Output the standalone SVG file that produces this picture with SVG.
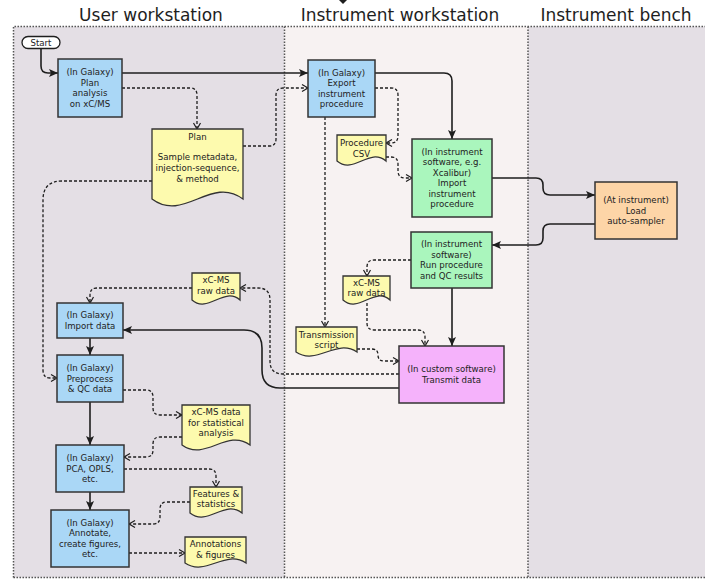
<svg xmlns="http://www.w3.org/2000/svg" width="705" height="579" viewBox="0 0 705 579">
<defs>
<marker id="fa" markerUnits="userSpaceOnUse" markerWidth="10" markerHeight="9" refX="9" refY="4" orient="auto" overflow="visible">
<path d="M0,0 L9,4 L0,8 L2,4 z" fill="#1e1e1e"/>
</marker>
<marker id="oa" markerUnits="userSpaceOnUse" markerWidth="8" markerHeight="8" refX="6" refY="3.5" orient="auto" overflow="visible">
<path d="M0,0 L6,3.5 L0,7" fill="none" stroke="#1e1e1e" stroke-width="1.2"/>
</marker>
<style>
.lane{stroke:#555;stroke-width:1.5;stroke-dasharray:1.5 1.5}
.title{font-family:"DejaVu Sans",sans-serif;font-size:17px;fill:#1e1e1e;text-anchor:middle}
.t{font-family:"DejaVu Sans",sans-serif;font-size:8.6px;fill:#222;text-anchor:middle}
.box{stroke:#333;stroke-width:1.5}
.blue{fill:#aad7f6}
.green{fill:#aaf6bd}
.orange{fill:#fdd5a7}
.pink{fill:#f5b2fb}
.doc{fill:#fdfaae;stroke:#333;stroke-width:1.3}
.s{fill:none;stroke:#1e1e1e;stroke-width:1.6;marker-end:url(#fa)}
.d{fill:none;stroke:#1e1e1e;stroke-width:1.3;stroke-dasharray:3 2;marker-end:url(#oa)}
</style>
</defs>
<rect width="705" height="579" fill="#ffffff"/>
<g id="lanes">
<rect x="13.5" y="26.5" width="271" height="551" fill="#e4dfe5"/>
<rect x="284.5" y="26.5" width="243.5" height="551" fill="#f7f2f2"/>
<rect x="528" y="26.5" width="180" height="551" fill="#e4dfe5"/>
<path class="lane" fill="none" d="M13.5,577.5 V26.5 H708 M284.5,26.5 V577.5 M528,26.5 V577.5 M13.5,577.5 H708"/>
<text class="title" x="151" y="21">User workstation</text>
<text class="title" x="400" y="21">Instrument workstation</text>
<text class="title" x="616" y="21">Instrument bench</text>
<path d="M339,0 L347,0 L343,4 z" fill="#1e1e1e"/>
</g>
<g id="connectors">
<path class="s" d="M41,48 V66 Q41,73 48,73 H58"/>
<path class="s" d="M122,73 H308"/>
<path class="d" d="M122,88 H190 Q197,88 197,95 V129"/>
<path class="d" d="M243,146 H269 Q276,146 276,139 V95 Q276,88 283,88 H308"/>
<path class="d" d="M152,181 H62 Q43,181 43,200 V370 Q43,378 50,378 H57"/>
<path class="s" d="M375,73 H444 Q452,73 452,81 V139"/>
<path class="d" d="M375,88 H391 Q398,88 398,95 V136 Q398,143 391,143 H386"/>
<path class="d" d="M386,157 H391 Q398,157 398,164 V171 Q398,178 405,178 H412"/>
<path class="d" d="M325,117 V327"/>
<path class="s" d="M492,178 H536 Q543,178 543,185 V188 Q543,195 550,195 H595"/>
<path class="s" d="M595,224 H550 Q543,224 543,231 V238 Q543,245 536,245 H492"/>
<path class="d" d="M411,260 H374 Q367,260 367,267 V276"/>
<path class="s" d="M452,288 V346"/>
<path class="d" d="M367,303 V323 Q367,330 374,330 H418 Q425,330 425,337 V346"/>
<path class="d" d="M357,349 H372 Q378,349 378,355 Q378,361 384,361 H399"/>
<path class="d" d="M399,374 H283 Q270,374 270,361 V300 Q270,288 258,288 H240"/>
<path class="d" d="M192,288 H97 Q90,288 90,295 V303"/>
<path class="s" d="M399,388 H280 Q262,388 262,370 V348 Q262,330 244,330 H123"/>
<path class="s" d="M90,338 V355"/>
<path class="d" d="M123,390 H146 Q153,390 153,397 V408 Q153,415 160,415 H182"/>
<path class="d" d="M182,437 H160 Q153,437 153,444 V450 Q153,457 146,457 H124"/>
<path class="s" d="M90,402 V445"/>
<path class="d" d="M124,469 H209 Q216,469 216,476 V487"/>
<path class="d" d="M190,502 H167 Q160,502 160,509 V517 Q160,524 153,524 H129"/>
<path class="s" d="M90,492 V510"/>
<path class="d" d="M129,553 H185"/>
</g>
<g id="start">
<rect x="22" y="36.5" width="38" height="12" rx="6" fill="#fff" stroke="#1e1e1e" stroke-width="1.3"/>
<text class="t" x="41" y="45.5">Start</text>
</g>
<g id="plan-analysis">
<rect class="box blue" x="58" y="59" width="64" height="58"/>
<text class="t" x="90" y="75.4">(In Galaxy)</text>
<text class="t" x="90" y="85.8">Plan</text>
<text class="t" x="90" y="96.2">analysis</text>
<text class="t" x="90" y="106.6">on xC/MS</text>
</g>
<g id="export">
<rect class="box blue" x="308" y="60" width="67" height="57"/>
<text class="t" x="341.5" y="75.9">(In Galaxy)</text>
<text class="t" x="341.5" y="86.3">Export</text>
<text class="t" x="341.5" y="96.7">instrument</text>
<text class="t" x="341.5" y="107.1">procedure</text>
</g>
<g id="plan-doc">
<path class="doc" d="M152,129 H243 V199 C211,175 184,223 152,199 Z"/>
<text class="t" x="197.5" y="140">Plan</text>
<text class="t" x="197.5" y="160">Sample metadata,</text>
<text class="t" x="197.5" y="171">injection-sequence,</text>
<text class="t" x="197.5" y="182">&amp; method</text>
</g>
<g id="procedure-csv">
<path class="doc" d="M337,135 H386 V161 C369,147 354,175 337,161 Z"/>
<text class="t" x="361.5" y="146">Procedure</text>
<text class="t" x="361.5" y="156.5">CSV</text>
</g>
<g id="import-instrument">
<rect class="box green" x="412" y="139" width="80" height="78"/>
<text class="t" x="452" y="155">(In instrument</text>
<text class="t" x="452" y="165.4">software, e.g.</text>
<text class="t" x="452" y="175.8">Xcalibur)</text>
<text class="t" x="452" y="186.2">Import</text>
<text class="t" x="452" y="196.6">instrument</text>
<text class="t" x="452" y="207">procedure</text>
</g>
<g id="load">
<rect class="box orange" x="595" y="182" width="82" height="57"/>
<text class="t" x="636" y="203.1">(At instrument)</text>
<text class="t" x="636" y="213.5">Load</text>
<text class="t" x="636" y="223.9">auto-sampler</text>
</g>
<g id="run">
<rect class="box green" x="411" y="232" width="81" height="56"/>
<text class="t" x="451.5" y="247.4">(In instrument</text>
<text class="t" x="451.5" y="257.8">software)</text>
<text class="t" x="451.5" y="268.2">Run procedure</text>
<text class="t" x="451.5" y="278.6">and QC results</text>
</g>
<g id="raw-instrument">
<path class="doc" d="M343,276 H390 V300 C374,286 359,314 343,300 Z"/>
<text class="t" x="366.5" y="286">xC-MS</text>
<text class="t" x="366.5" y="296">raw data</text>
</g>
<g id="transmission-script">
<path class="doc" d="M296,327 H357 V352 C336,338 317,366 296,352 Z"/>
<text class="t" x="326.5" y="338">Transmission</text>
<text class="t" x="326.5" y="348">script</text>
</g>
<g id="transmit">
<rect class="box pink" x="399" y="346" width="105" height="57"/>
<text class="t" x="451.5" y="372.3">(In custom software)</text>
<text class="t" x="451.5" y="382.7">Transmit data</text>
</g>
<g id="raw-user">
<path class="doc" d="M192,273 H240 V300 C224,286 208,314 192,300 Z"/>
<text class="t" x="216" y="283">xC-MS</text>
<text class="t" x="216" y="293.5">raw data</text>
</g>
<g id="import-data">
<rect class="box blue" x="57" y="303" width="66" height="35"/>
<text class="t" x="90" y="318.3">(In Galaxy)</text>
<text class="t" x="90" y="328.7">Import data</text>
</g>
<g id="preprocess">
<rect class="box blue" x="57" y="355" width="66" height="47"/>
<text class="t" x="90" y="371.1">(In Galaxy)</text>
<text class="t" x="90" y="381.5">Preprocess</text>
<text class="t" x="90" y="391.9">&amp; QC data</text>
</g>
<g id="stats-doc">
<path class="doc" d="M182,405 H250 V445 C227,428 205,462 182,445 Z"/>
<text class="t" x="216" y="415">xC-MS data</text>
<text class="t" x="216" y="425.5">for statistical</text>
<text class="t" x="216" y="436">analysis</text>
</g>
<g id="pca">
<rect class="box blue" x="56" y="445" width="68" height="47"/>
<text class="t" x="90" y="461.1">(In Galaxy)</text>
<text class="t" x="90" y="471.5">PCA, OPLS,</text>
<text class="t" x="90" y="481.9">etc.</text>
</g>
<g id="features">
<path class="doc" d="M190,487 H242 V513 C224,499 208,527 190,513 Z"/>
<text class="t" x="216" y="497">Features &amp;</text>
<text class="t" x="216" y="507">statistics</text>
</g>
<g id="annotate">
<rect class="box blue" x="51" y="510" width="78" height="57"/>
<text class="t" x="90" y="525.9">(In Galaxy)</text>
<text class="t" x="90" y="536.3">Annotate,</text>
<text class="t" x="90" y="546.7">create figures,</text>
<text class="t" x="90" y="557.1">etc.</text>
</g>
<g id="annotations">
<path class="doc" d="M185,537 H246 V563 C225,549 206,577 185,563 Z"/>
<text class="t" x="215.5" y="547">Annotations</text>
<text class="t" x="215.5" y="557.5">&amp; figures</text>
</g>
</svg>
